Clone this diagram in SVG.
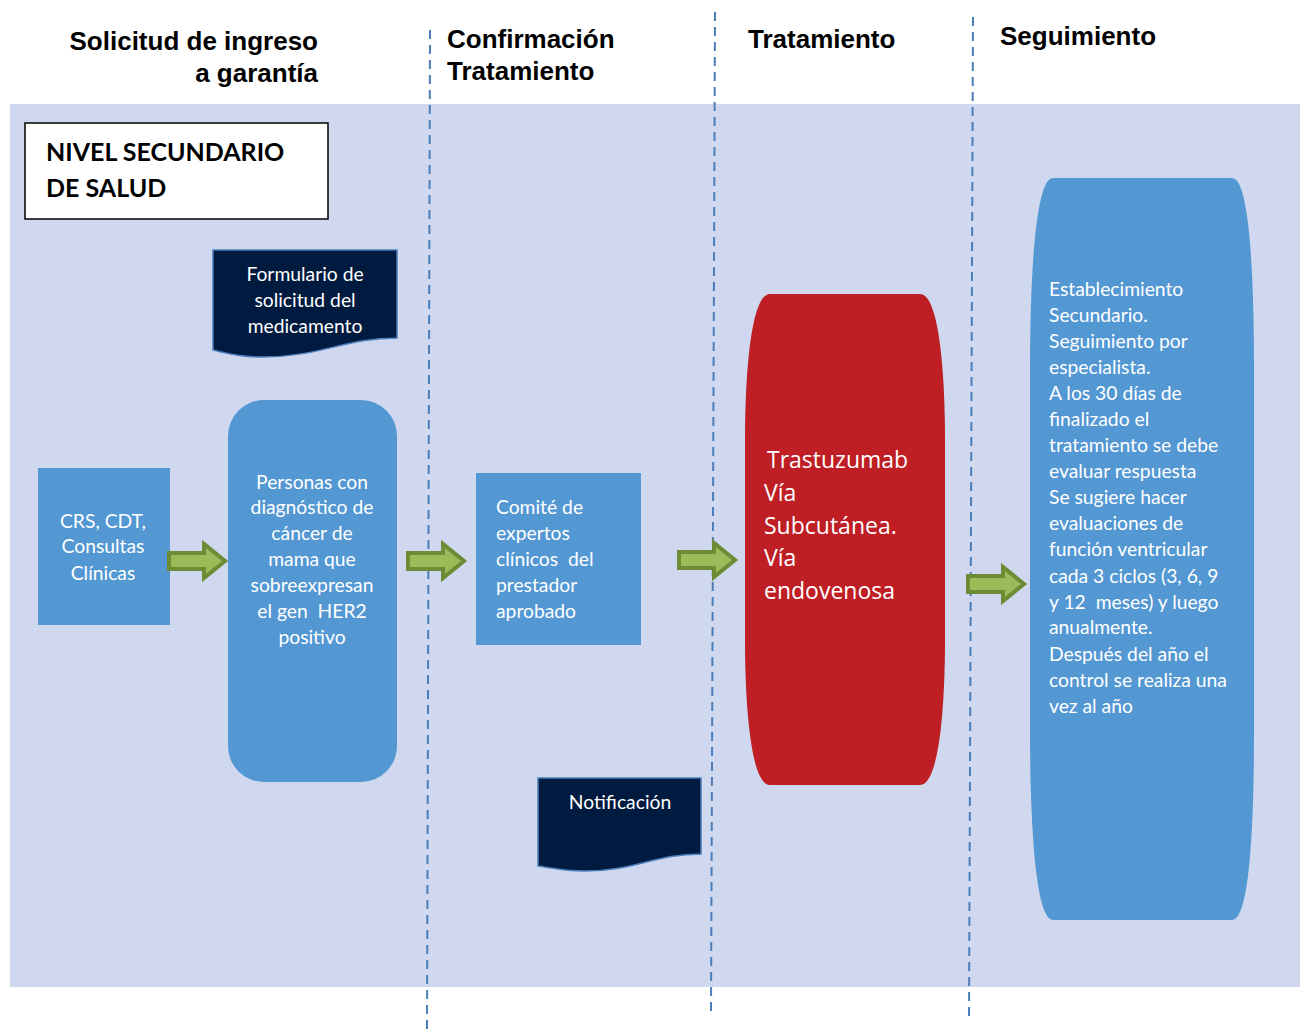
<svg xmlns="http://www.w3.org/2000/svg" width="1300" height="1032" viewBox="0 0 1300 1032">
<defs>
<style>
text{white-space:pre}
.hdr{font-family:"Liberation Sans",Arial,sans-serif;font-weight:bold;font-size:26px;fill:#000}
.t{font-family:Lato,"Noto Sans",sans-serif;font-size:19.3px;fill:#fff}
.tc{text-anchor:middle}
.big{font-family:"Open Sans","Noto Sans",sans-serif;font-size:23px;fill:#fff}
.dash{stroke:#4A7EBB;stroke-width:2;stroke-dasharray:9,6;fill:none}
.doc{fill:#001A40;stroke:#4A7EBB;stroke-width:1.5}
.blue{fill:#5397D3}
.arrow{fill:#9BBB59;stroke:#6E8B35;stroke-width:4;stroke-linejoin:miter}
</style>
<path id="arr" d="M0,-8 H35 V-17 L56,0 L35,17 V8 H0 Z"/>
</defs>
<rect x="0" y="0" width="1300" height="1032" fill="#fff"/>
<rect x="10" y="104" width="1290" height="883" fill="#CFD8EE"/>
<g id="lanes">
<line class="dash" x1="430" y1="30" x2="427" y2="1032"/>
<line class="dash" x1="715" y1="12" x2="711" y2="1015"/>
<line class="dash" x1="973" y1="17" x2="969" y2="1020"/>
</g>
<g id="headers">
<text class="hdr" x="318" y="50" text-anchor="end">Solicitud de ingreso</text>
<text class="hdr" x="318" y="82" text-anchor="end">a garantía</text>
<text class="hdr" x="447" y="48">Confirmación</text>
<text class="hdr" x="447" y="80">Tratamiento</text>
<text class="hdr" x="748" y="48">Tratamiento</text>
<text class="hdr" x="1000" y="45">Seguimiento</text>
</g>
<g id="nivel">
<rect x="25" y="123" width="303" height="96" fill="#fff" stroke="#000" stroke-width="1.5"/>
<text x="46" y="161" style="font-family:Lato,'Noto Sans',sans-serif;font-weight:bold;font-size:25px;fill:#000">NIVEL SECUNDARIO</text>
<text x="46" y="197" style="font-family:Lato,'Noto Sans',sans-serif;font-weight:bold;font-size:25px;fill:#000">DE SALUD</text>
</g>
<g id="formulario">
<path class="doc" d="M213,250 H397 V338 C345,338 320,357 262,357 C238,357 226,353 213,350 Z"/>
<text class="t tc" x="305" y="281">Formulario de</text>
<text class="t tc" x="305" y="307">solicitud del</text>
<text class="t tc" x="305" y="333">medicamento</text>
</g>
<g id="crs">
<rect class="blue" x="38" y="468" width="132" height="157"/>
<text class="t tc" x="103" y="528">CRS, CDT,</text>
<text class="t tc" x="103" y="553">Consultas</text>
<text class="t tc" x="103" y="580">Clínicas</text>
</g>
<g id="personas">
<rect class="blue" x="228" y="400" width="169" height="382" rx="36" ry="36"/>
<text class="t tc" x="312" y="489">Personas con</text>
<text class="t tc" x="312" y="514">diagnóstico de</text>
<text class="t tc" x="312" y="540">cáncer de</text>
<text class="t tc" x="312" y="566">mama que</text>
<text class="t tc" x="312" y="592">sobreexpresan</text>
<text class="t tc" x="312" y="618">el gen  HER2</text>
<text class="t tc" x="312" y="644">positivo</text>
</g>
<g id="comite">
<rect class="blue" x="476" y="473" width="165" height="172"/>
<text class="t" x="496" y="514">Comité de</text>
<text class="t" x="496" y="540">expertos</text>
<text class="t" x="496" y="566">clínicos  del</text>
<text class="t" x="496" y="592">prestador</text>
<text class="t" x="496" y="618">aprobado</text>
</g>
<g id="tratamiento">
<path fill="#BE1E24" d="M770,294 H920 C940,294 945,380 945,440 V640 C945,700 940,785 920,785 H770 C750,785 745,700 745,640 V440 C745,380 750,294 770,294 Z"/>
<text class="big" x="767" y="468">Trastuzumab</text>
<text class="big" x="764" y="501">Vía</text>
<text class="big" x="764" y="534">Subcutánea.</text>
<text class="big" x="764" y="566">Vía</text>
<text class="big" x="764" y="599">endovenosa</text>
</g>
<g id="seguimiento">
<path class="blue" d="M1053,178 H1232 C1250,178 1254,280 1254,370 V730 C1254,820 1250,920 1232,920 H1053 C1035,920 1030,820 1030,730 V370 C1030,280 1035,178 1053,178 Z"/>
<g class="t">
<text x="1049" y="296">Establecimiento</text>
<text x="1049" y="322">Secundario.</text>
<text x="1049" y="348">Seguimiento por</text>
<text x="1049" y="374">especialista.</text>
<text x="1049" y="400">A los 30 días de</text>
<text x="1049" y="426">finalizado el</text>
<text x="1049" y="452">tratamiento se debe</text>
<text x="1049" y="478">evaluar respuesta</text>
<text x="1049" y="504">Se sugiere hacer</text>
<text x="1049" y="530">evaluaciones de</text>
<text x="1049" y="556">función ventricular</text>
<text x="1049" y="583">cada 3 ciclos (3, 6, 9</text>
<text x="1049" y="609">y 12  meses) y luego</text>
<text x="1049" y="634">anualmente.</text>
<text x="1049" y="661">Después del año el</text>
<text x="1049" y="687">control se realiza una</text>
<text x="1049" y="713">vez al año</text>
</g>
</g>
<g id="notificacion">
<path class="doc" d="M538,778 H701 V854 C655,854 635,871 585,871 C565,871 552,868 538,866 Z"/>
<text class="t tc" x="620" y="809">Notificación</text>
</g>
<g id="connectors">
<use href="#arr" class="arrow" x="169" y="561"/>
<use href="#arr" class="arrow" x="408" y="561"/>
<use href="#arr" class="arrow" x="679" y="560"/>
<use href="#arr" class="arrow" x="968" y="584"/>
</g>
</svg>
